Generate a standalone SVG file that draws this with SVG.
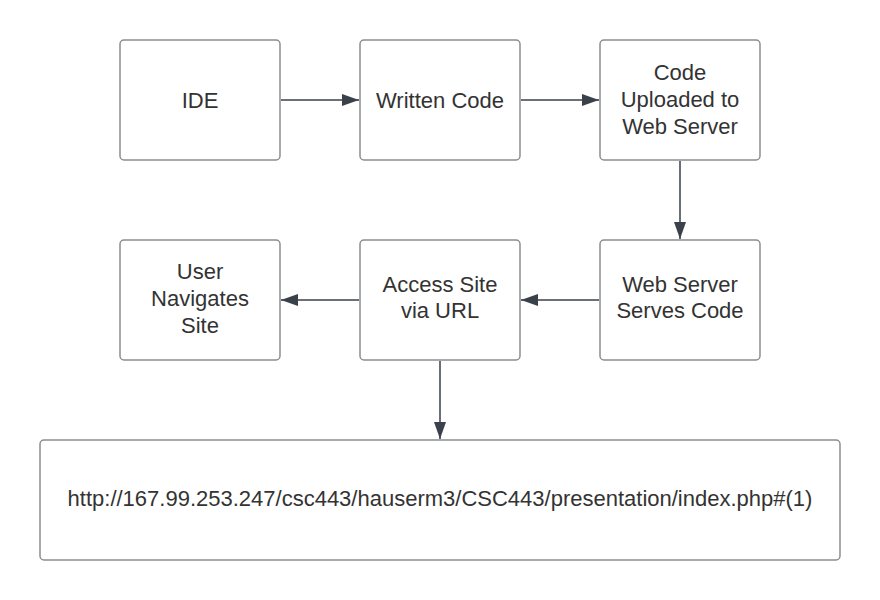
<svg xmlns="http://www.w3.org/2000/svg" width="880" height="600" viewBox="0 0 880 600">
<style>
.box{fill:#ffffff;stroke:#8a8d91;stroke-width:1.5}
.lbl{font-family:"Liberation Sans",Arial,sans-serif;font-size:22px;fill:#333333;text-anchor:middle}
.edge{stroke:#3a414a;stroke-width:1.5;fill:none}
</style>
<defs>
<marker id="ah" viewBox="0 0 17 12" refX="17" refY="6" markerWidth="17" markerHeight="12" markerUnits="userSpaceOnUse" orient="auto">
<path d="M0,0 L17,6 L0,12 Z" fill="#3a414a"/>
</marker>
</defs>
<rect width="880" height="600" fill="#ffffff"/>
<g id="ide"><rect class="box" x="120" y="40" width="160" height="120" rx="4"/><text class="lbl" x="200" y="108">IDE</text></g>
<g id="written"><rect class="box" x="360" y="40" width="160" height="120" rx="4"/><text class="lbl" x="440" y="108">Written Code</text></g>
<g id="uploaded"><rect class="box" x="600" y="40" width="160" height="120" rx="4"/><text class="lbl" x="680" y="80">Code</text><text class="lbl" x="680" y="107">Uploaded to</text><text class="lbl" x="680" y="134">Web Server</text></g>
<g id="serves"><rect class="box" x="600" y="240" width="160" height="120" rx="4"/><text class="lbl" x="680" y="292">Web Server</text><text class="lbl" x="680" y="318">Serves Code</text></g>
<g id="access"><rect class="box" x="360" y="240" width="160" height="120" rx="4"/><text class="lbl" x="440" y="292">Access Site</text><text class="lbl" x="440" y="318">via URL</text></g>
<g id="user"><rect class="box" x="120" y="240" width="160" height="120" rx="4"/><text class="lbl" x="200" y="279">User</text><text class="lbl" x="200" y="306">Navigates</text><text class="lbl" x="200" y="333">Site</text></g>
<g id="url"><rect class="box" x="40" y="440" width="800" height="120" rx="4"/><text class="lbl" x="440" y="506">http://167.99.253.247/csc443/hauserm3/CSC443/presentation/index.php#(1)</text></g>
<g id="connectors">
<path class="edge" d="M281,100 L359,100" marker-end="url(#ah)"/>
<path class="edge" d="M521,100 L599,100" marker-end="url(#ah)"/>
<path class="edge" d="M680,161 L680,239" marker-end="url(#ah)"/>
<path class="edge" d="M599,300 L521,300" marker-end="url(#ah)"/>
<path class="edge" d="M359,300 L281,300" marker-end="url(#ah)"/>
<path class="edge" d="M440,361 L440,439" marker-end="url(#ah)"/>
</g>
</svg>
